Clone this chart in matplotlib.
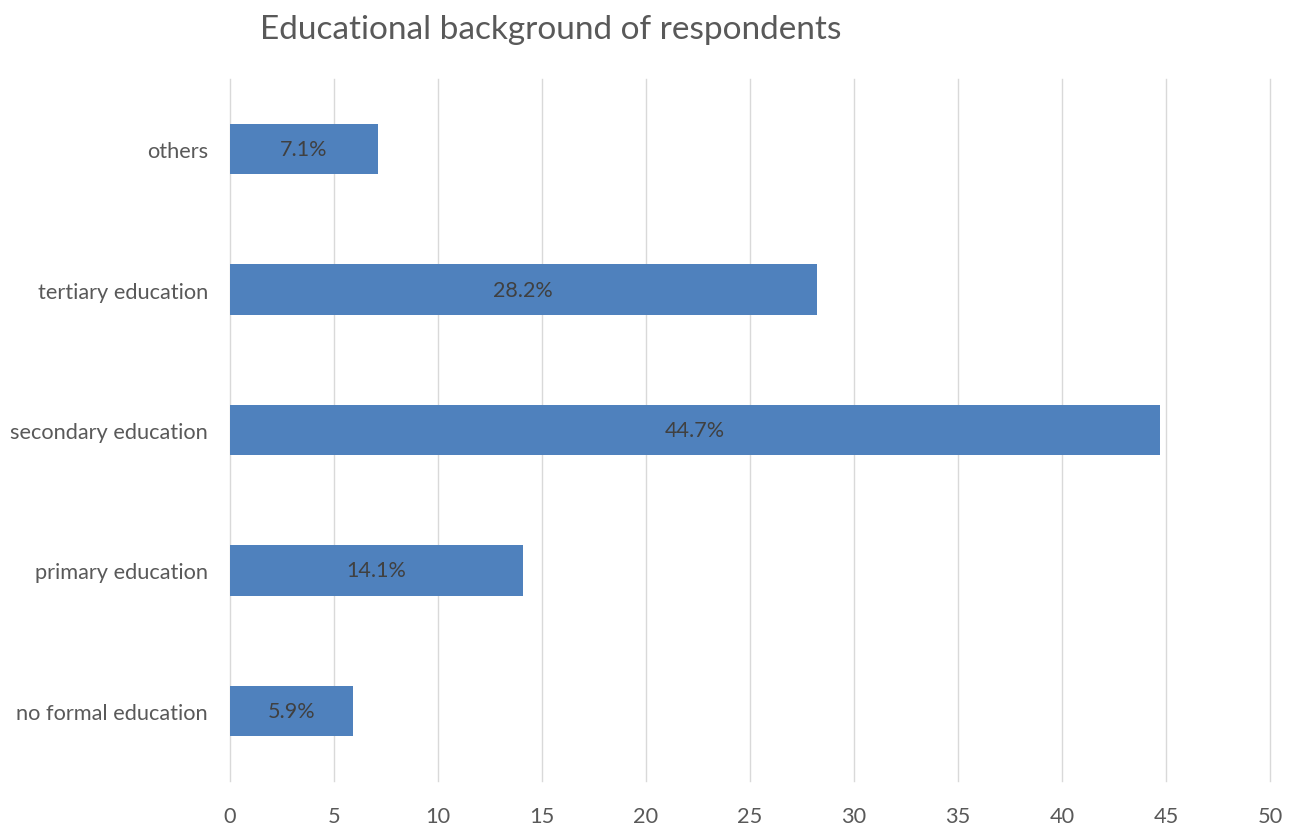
import matplotlib
matplotlib.use('Agg')
import matplotlib.pyplot as plt

# chart data
categories = ['no formal education', 'primary education', 'secondary education',
              'tertiary education', 'others']
values = [5.9, 14.1, 44.7, 28.2, 7.1]
bar_labels = ['5.9%', '14.1%', '44.7%', '28.2%', '7.1%']
x_ticks = [0, 5, 10, 15, 20, 25, 30, 35, 40, 45, 50]

plt.rcParams['font.family'] = ['Lato', 'DejaVu Sans']

fig = plt.figure(figsize=(12.94, 8.28), dpi=100)
ax = fig.add_axes([230/1294, 1 - 782/828, 1040/1294, 702/828])

bars = ax.barh(range(len(categories)), values, height=0.36, color='#4F81BD', zorder=2)
for b, lab in zip(bars, bar_labels):
    ax.text(b.get_width() / 2, b.get_y() + b.get_height() / 2, lab,
            ha='center', va='center', fontsize=15.5, color='#404040', zorder=3)

ax.set_xlim(0, 50)
ax.set_ylim(-0.5, len(categories) - 0.5)
ax.set_xticks(x_ticks)
ax.set_yticks(range(len(categories)))
ax.set_yticklabels(categories)
ax.grid(axis='x', color='#D9D9D9', linewidth=1, zorder=0)
for gl in ax.get_xgridlines():
    gl.set_clip_on(False)
ax.tick_params(axis='both', length=0, labelsize=15.7, colors='#595959')
ax.tick_params(axis='x', pad=18)
ax.tick_params(axis='y', pad=16)
for s in ax.spines.values():
    s.set_visible(False)

fig.text(551/1294, 1 - 30/828, 'Educational background of respondents',
         ha='center', va='center', fontsize=24, color='#595959')

fig.savefig('out.png', dpi=100, facecolor='white')
